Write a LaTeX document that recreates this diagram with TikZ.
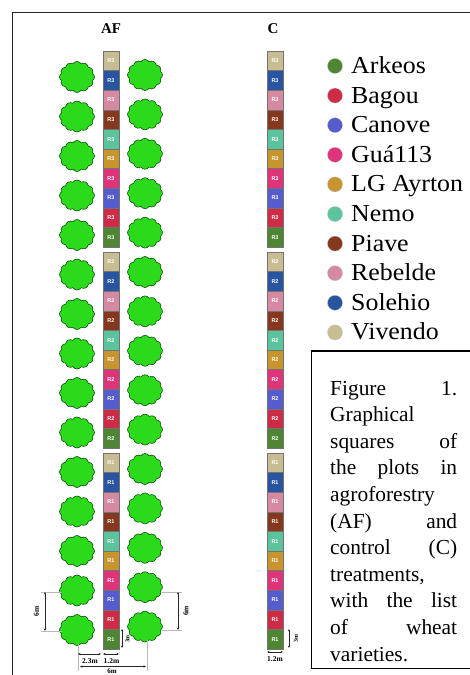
\documentclass[tikz,border=0pt]{standalone}
\usepackage{fontspec}
\setmainfont{Liberation Serif}
\setsansfont{Liberation Sans}
\usetikzlibrary{shapes.symbols,arrows.meta}

% wheat variety colours
\definecolor{cArkeos}{RGB}{78,134,52}
\definecolor{cBagou}{RGB}{206,44,70}
\definecolor{cCanove}{RGB}{84,92,206}
\definecolor{cGua}{RGB}{224,52,122}
\definecolor{cAyrton}{RGB}{200,148,46}
\definecolor{cNemo}{RGB}{92,196,156}
\definecolor{cPiave}{RGB}{134,56,30}
\definecolor{cRebelde}{RGB}{214,138,162}
\definecolor{cSolehio}{RGB}{40,84,160}
\definecolor{cVivendo}{RGB}{200,188,146}
\definecolor{treegreen}{RGB}{44,218,28}

\begin{document}
\begin{tikzpicture}[x=1bp,y=-1bp,
  plotcell/.style={draw=black!55,line width=0.4bp,minimum width=16bp,minimum height=19.6bp,
    inner sep=0pt,text=white,font=\sffamily\bfseries\fontsize{5.5}{6}\selectfont},
  tree/.style={cloud,cloud puffs=12,cloud puff arc=115,draw=black!75!green,line width=0.5bp,
    fill=treegreen,minimum width=35bp,minimum height=31bp,inner sep=0pt},
  dimline/.style={black!85,line width=0.6bp,
    {Stealth[length=2.5bp,width=2.2bp]}-{Stealth[length=2.5bp,width=2.2bp]}},
  extline/.style={gray!55,line width=0.4bp},
  dimlabel/.style={font=\bfseries\fontsize{7.5}{8}\selectfont,inner sep=0.5bp},
  legdot/.style={circle,minimum size=15bp,inner sep=0pt,draw=black!25,line width=0.3bp},
  legtext/.style={anchor=base west,font=\fontsize{24.5}{26}\selectfont,inner sep=0pt},
  captext/.style={anchor=base west,font=\fontsize{21.5}{24}\selectfont,inner sep=0pt},
  header/.style={font=\bfseries\fontsize{15}{16}\selectfont,inner sep=0pt},
  framestyle/.style={line width=1.6bp,black!85}
]
\useasboundingbox (0,0) rectangle (470,675);
\fill[white] (0,0) rectangle (470,675);

% outer frame
\draw[framestyle] (12.5,675) -- (12.5,12.5) -- (470,12.5);

% column headers
\node[header] (hAF) at (111,29) {AF};
\node[header] (hC) at (273,29) {C};

% plot columns: three replicate blocks of ten varieties
\foreach \b/\r in {0/3,1/2,2/1} {
  \foreach \v [count=\i from 0] in {cVivendo,cSolehio,cRebelde,cPiave,cNemo,cAyrton,cGua,cCanove,cBagou,cArkeos} {
    \pgfmathsetmacro\yc{51+\b*201+\i*19.6+9.8}
    \node[plotcell,fill=\v] (af-\r-\i) at (111,\yc) {R\r};
    \node[plotcell,fill=\v] (c-\r-\i) at (275,\yc) {R\r};
  }
}

% tree rows on both sides of the agroforestry strip
\foreach \k in {0,...,14} {
  \node[tree] (tl\k) at (77,{77+39.5*\k}) {};
  \node[tree] (tr\k) at (145,{75+39.4*\k}) {};
}

% spacing between trees, left side
\coordinate (l6t) at (45,592);
\coordinate (l6b) at (45,631);
\draw[extline] (41,592) -- (62,592);
\draw[extline] (41,631) -- (62,631);
\draw[dimline] (l6t) -- (l6b);
\node[dimlabel,rotate=90] (l6lab) at (36.5,611.5) {6m};

% spacing between trees, right side
\coordinate (r6t) at (178,592);
\coordinate (r6b) at (178,630);
\draw[extline] (162,592) -- (182,592);
\draw[extline] (162,630) -- (182,630);
\draw[dimline] (r6t) -- (r6b);
\node[dimlabel,rotate=90] (r6lab) at (186,611) {6m};

% plot length
\coordinate (af3t) at (122,629);
\coordinate (af3b) at (122,648);
\draw[dimline] (af3t) -- (af3b);
\node[dimlabel,rotate=90,font=\bfseries\fontsize{6}{7}\selectfont] (af3lab) at (127.5,639) {3m};

\coordinate (c3t) at (289,629);
\coordinate (c3b) at (289,648);
\draw[dimline] (c3t) -- (c3b);
\node[dimlabel,rotate=90,font=\bfseries\fontsize{6}{7}\selectfont] (c3lab) at (296,638.5) {3m};

% widths below the agroforestry strip
\draw[extline] (78,644) -- (78,671);
\draw[extline] (147,640) -- (147,671);
\coordinate (w23a) at (78,654);
\coordinate (w23b) at (101,654);
\coordinate (w12a) at (103,654);
\coordinate (w12b) at (119,654);
\coordinate (w6a) at (80,666.5);
\coordinate (w6b) at (146,666.5);
\draw[dimline] (w23a) -- (w23b);
\draw[dimline] (w12a) -- (w12b);
\draw[dimline] (w6a) -- (w6b);
\node[dimlabel] (w23lab) at (90,661.5) {2.3m};
\node[dimlabel] (w12lab) at (111.5,661.5) {1.2m};
\node[dimlabel,font=\bfseries\fontsize{7}{8}\selectfont] (w6lab) at (112,671) {6m};

% width below the control strip
\coordinate (cw12a) at (267,652);
\coordinate (cw12b) at (283,652);
\draw[dimline] (cw12a) -- (cw12b);
\node[dimlabel] (cw12lab) at (275,659.5) {1.2m};

% legend of wheat varieties
\foreach \c/\n [count=\i from 0] in {cArkeos/Arkeos,cBagou/Bagou,cCanove/Canove,cGua/Guá113,
    cAyrton/LG Ayrton,cNemo/Nemo,cPiave/Piave,cRebelde/Rebelde,cSolehio/Solehio,cVivendo/Vivendo} {
  \node[legdot,fill=\c] (ld\i) at (335,{66+29.6*\i}) {};
  \node[legtext] (lt\i) at (351,{73.5+29.6*\i}) {\scalebox{1.06}[1]{\n}};
}

% caption box
\draw[line width=1.3bp,black] (471,351) -- (311.5,351) -- (311.5,668.5) -- (471,668.5);
\foreach \t [count=\i from 0] in {
    {Figure\hfill 1.},
    {Graphical\hfill},
    {squares\hfill of},
    {the\hfill plots\hfill in},
    {agroforestry\hfill},
    {(AF)\hfill and},
    {control\hfill (C)},
    {treatments,\hfill},
    {with\hfill the\hfill list},
    {of\hfill wheat},
    {varieties.\hfill}} {
  \node[captext] (cap\i) at (330,{395+26.6*\i}) {\hbox to 127bp{\t}};
}
\end{tikzpicture}
\end{document}
